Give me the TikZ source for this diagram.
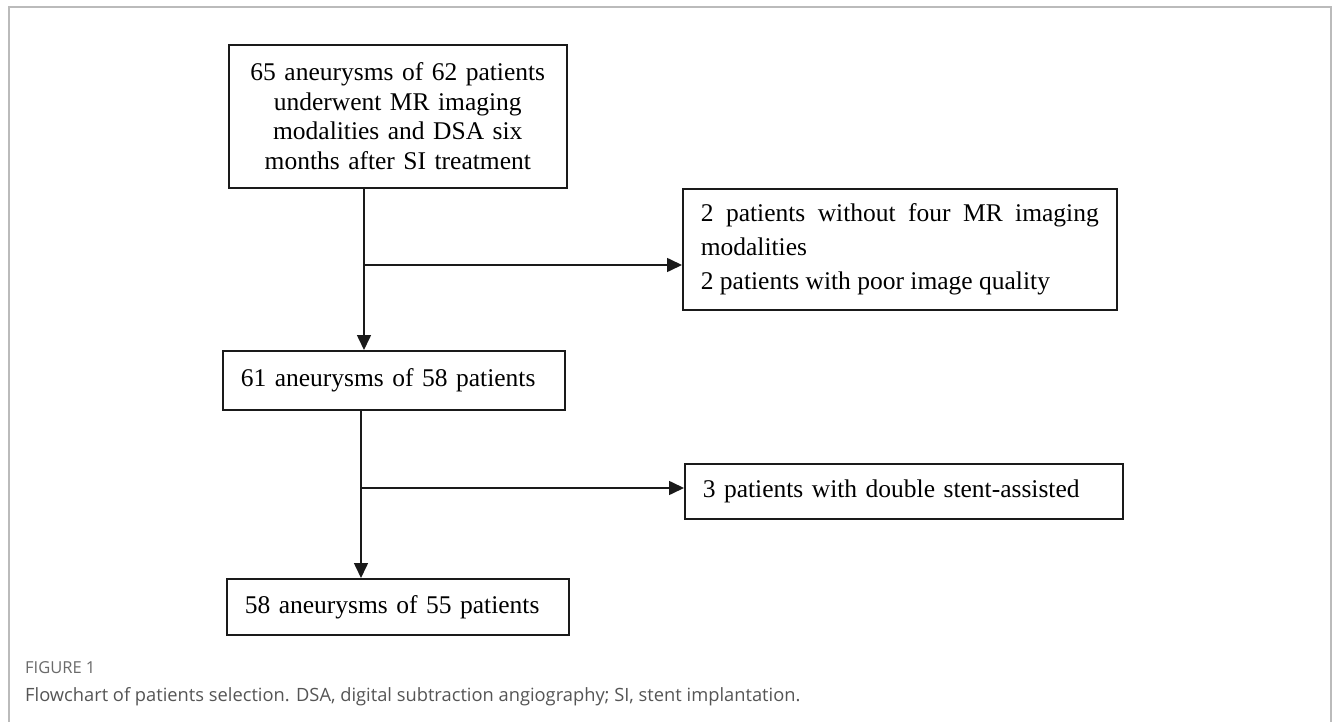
\documentclass[tikz,border=0pt]{standalone}
\usepackage{fontspec}
\setmainfont{Liberation Serif}
\newfontfamily\capfont{Open Sans}
\usetikzlibrary{arrows.meta}
\tolerance=10000
\definecolor{framegray}{HTML}{BBBBBB}
\definecolor{capgray}{HTML}{555555}
\definecolor{figgray}{HTML}{6A6A6A}
\definecolor{inkline}{HTML}{1A1A1A}
\tikzset{
  flowbox/.style={draw=inkline, line width=1.6pt, anchor=north west, inner xsep=18pt, inner ysep=0pt,
    font={\fontsize{25.5}{29.5}\selectfont}, text=black},
  arr/.style={draw=inkline, line width=1.6pt, -{Triangle[length=15pt,width=14pt]}}
}
\begin{document}
\begin{tikzpicture}[x=1pt,y=-1pt]
\useasboundingbox (0,0) rectangle (1333,722);
\fill[white] (0,0) rectangle (1333,722);
\draw[framegray, line width=2pt] (9,730) -- (9,7) -- (1331,7) -- (1331,730);

\node[flowbox, text width=302pt, minimum height=143pt, align=center] (b1) at (228,44)
  {65 aneurysms of 62 patients\\ underwent MR imaging\\ modalities and DSA six\\ months after SI treatment};
\node[flowbox, text width=398pt, minimum height=121pt, align=justify, font={\fontsize{25.5}{34}\selectfont}] (b2) at (682,188)
  {2 patients without four MR imaging modalities\\ 2 patients with poor image quality};
\node[flowbox, text width=306pt, minimum height=59pt, align=left] (b3) at (222,350)
  {61 aneurysms of 58 patients};
\node[flowbox, text width=402pt, minimum height=55pt, align=left] (b4) at (684,463)
  {3 patients with double stent-assisted};
\node[flowbox, text width=306pt, minimum height=56pt, align=left] (b5) at (226,578)
  {58 aneurysms of 55 patients};

\coordinate (j1) at (364,265);
\coordinate (j2) at (361,488);
\draw[arr] (b1.south -| j1) -- (b3.north -| j1);
\draw[arr] (j1) -- (j1 -| b2.west);
\draw[arr] (b3.south -| j2) -- (b5.north -| j2);
\draw[arr] (j2) -- (j2 -| b4.west);

\node[anchor=west, inner sep=0pt, text=figgray, font={\capfont\fontsize{16.5}{19}\selectfont}] (fig) at (25,668) {FIGURE 1};
\node[anchor=west, inner sep=0pt, text=capgray, font={\capfont\fontsize{18.3}{21}\selectfont}] (cap) at (25,697)
  {Flowchart of patients selection. DSA, digital subtraction angiography; SI, stent implantation.};
\end{tikzpicture}
\end{document}
